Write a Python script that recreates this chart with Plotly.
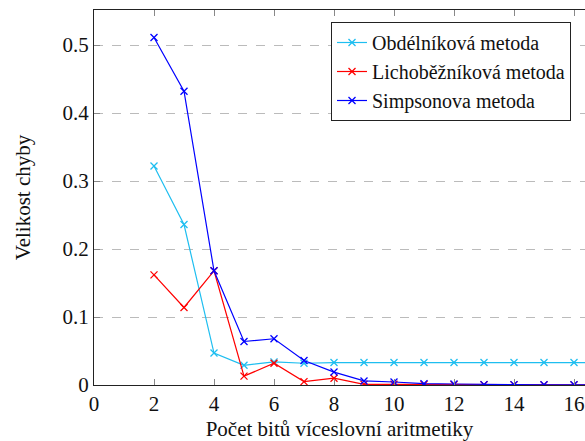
import plotly.graph_objects as go

# Bit counts of the multi-word arithmetic
bits = [2, 3, 4, 5, 6, 7, 8, 9, 10, 11, 12, 13, 14, 15, 16, 17]

# Error magnitude for each integration method
obdelnikova = [0.322, 0.236, 0.047, 0.029, 0.034, 0.032, 0.033, 0.033,
               0.033, 0.033, 0.033, 0.033, 0.033, 0.033, 0.033, 0.033]
lichobeznikova = [0.162, 0.114, 0.168, 0.013, 0.032, 0.005, 0.010, 0.001,
                  0.001, 0.0008, 0.0005, 0.0003, 0.0002, 0.0002, 0.0002, 0.0002]
simpsonova = [0.511, 0.432, 0.168, 0.064, 0.068, 0.036, 0.019, 0.006,
              0.0044, 0.002, 0.0015, 0.0006, 0.0005, 0.0004, 0.0004, 0.0004]

names = ["Obdélníková metoda", "Lichoběžníková metoda", "Simpsonova metoda"]
colors = ["#1EBEF0", "#FF0000", "#0000FF"]

x_ticks = [0, 2, 4, 6, 8, 10, 12, 14, 16]
y_ticks = [0, 0.1, 0.2, 0.3, 0.4, 0.5]
y_tick_text = ["0", "0.1", "0.2", "0.3", "0.4", "0.5"]

FONT = "'Liberation Serif', 'Times New Roman', serif"
SIZE = 21

fig = go.Figure()
for name, vals, col in zip(names, [obdelnikova, lichobeznikova, simpsonova], colors):
    fig.add_trace(go.Scatter(
        x=bits, y=vals, name=name, mode="lines+markers",
        line=dict(color=col, width=1.2),
        marker=dict(symbol="x-thin", size=7, line=dict(color=col, width=1.3)),
    ))

fig.update_layout(
    width=585, height=441,
    margin=dict(l=94, r=0, t=10, b=56),
    paper_bgcolor="white", plot_bgcolor="white",
    font=dict(family=FONT, size=SIZE, color="#111"),
    showlegend=True,
    legend=dict(
        x=(571 - 94) / (585 - 94), xanchor="right",
        y=(385 - 22) / 375, yanchor="top",
        bgcolor="white", bordercolor="#222", borderwidth=1,
        font=dict(family=FONT, size=20),
        itemwidth=30, tracegroupgap=0,
    ),
    xaxis=dict(
        range=[0, (585 - 94) / 30.0], tickmode="array", tickvals=x_ticks,
        ticks="inside", ticklen=6, tickcolor="#888", tickwidth=1,
        showline=True, linecolor="#222", linewidth=1, mirror="ticks",
        showgrid=False, zeroline=False,
        title=dict(text="Počet bitů víceslovní aritmetiky", standoff=10,
                   font=dict(family=FONT, size=SIZE)),
        tickfont=dict(family=FONT, size=SIZE),
    ),
    yaxis=dict(
        range=[0, 0.5515], tickmode="array", tickvals=y_ticks, ticktext=y_tick_text,
        ticks="inside", ticklen=6, tickcolor="#888", tickwidth=1,
        showline=True, linecolor="#222", linewidth=1,
        showgrid=True, gridcolor="#BBBBBB", griddash="dash", gridwidth=1,
        zeroline=False,
        title=dict(text="Velikost chyby", standoff=26,
                   font=dict(family=FONT, size=SIZE)),
        tickfont=dict(family=FONT, size=SIZE),
    ),
)

fig.write_html("out.html")
